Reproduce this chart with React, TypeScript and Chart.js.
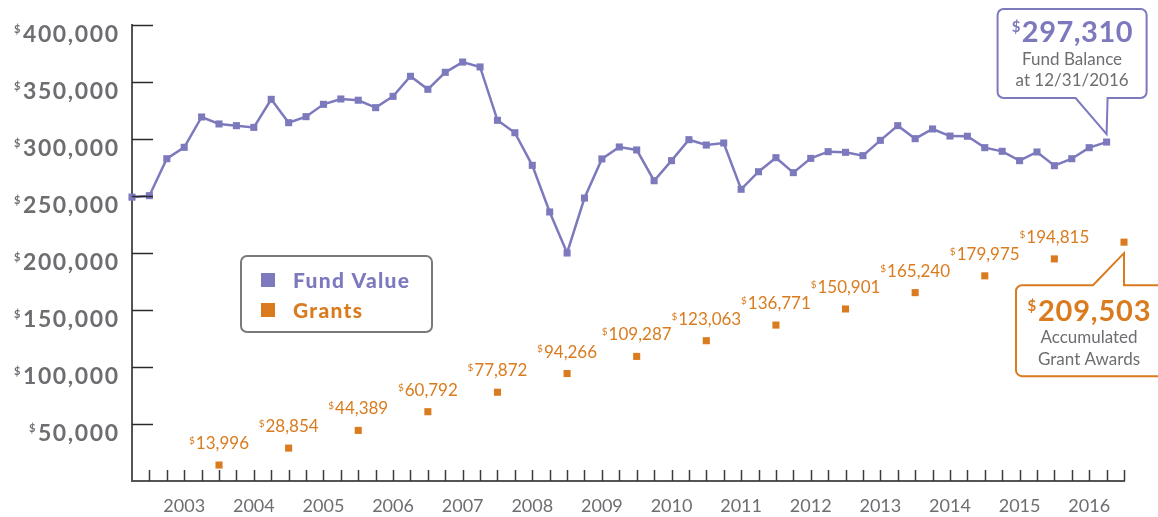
import React, { useEffect, useRef } from 'react';
import { Chart, registerables } from 'chart.js';

Chart.register(...registerables);

// ---------- data ----------
const fundValues: number[] = [
  249000, 250300, 282700, 292700, 319300, 313200, 311700, 310200,
  334800, 314300, 319600, 330400, 335100, 334000, 327500, 337400,
  355000, 343600, 358500, 367500, 363200, 316400, 305500, 276900,
  236000, 200000, 248200, 282500, 293000, 290400, 263400, 281000,
  299400, 294700, 296500, 255900, 271300, 283600, 270500, 283000,
  288900, 288300, 285400, 298800, 311700, 300300, 308800, 302600,
  302400, 292400, 289200, 281000, 288600, 276600, 282700, 292400,
  297310,
];
const yearLabels: string[] = [
  '2003', '2004', '2005', '2006', '2007', '2008', '2009',
  '2010', '2011', '2012', '2013', '2014', '2015', '2016',
];
const grantValues: number[] = [
  13996, 28854, 44389, 60792, 77872, 94266, 109287,
  123063, 136771, 150901, 165240, 179975, 194815, 209503,
];
const yTickValues: number[] = [50000, 100000, 150000, 200000, 250000, 300000, 350000, 400000];
const legendLabels: string[] = ['Fund Value', 'Grants'];
const fundCalloutLines: string[] = ['Fund Balance', 'at 12/31/2016'];
const grantCalloutLines: string[] = ['Accumulated', 'Grant Awards'];

const PURPLE = '#7d79bd';
const ORANGE = '#d97b1e';
const GRAY = '#6d6e71';
const FONT = 'Lato';

const fmt = (v: number) => v.toLocaleString('en-US');

function moneyText(
  ctx: CanvasRenderingContext2D,
  value: number,
  cx: number,
  baseline: number,
  size: number,
  dollarSize: number,
  weight: string,
  color: string,
  spacing: number,
  align: 'center' | 'right',
) {
  ctx.save();
  ctx.fillStyle = color;
  ctx.textBaseline = 'alphabetic';
  ctx.textAlign = 'left';
  (ctx as any).letterSpacing = spacing + 'px';
  ctx.font = `${weight} ${size}px ${FONT}`;
  const num = fmt(value);
  const wNum = ctx.measureText(num).width - spacing;
  ctx.font = `${weight} ${dollarSize}px ${FONT}`;
  const wD = ctx.measureText('$').width;
  const total = wD + 1 + wNum;
  const start = align === 'center' ? cx - total / 2 : cx - total;
  ctx.fillText('$', start, baseline - size * 0.72 + dollarSize * 0.72);
  ctx.font = `${weight} ${size}px ${FONT}`;
  ctx.fillText(num, start + wD + 1, baseline);
  ctx.restore();
}

const decorPlugin = {
  id: 'decor',
  afterDraw(chart: any) {
    const ctx: CanvasRenderingContext2D = chart.ctx;
    const xs = chart.scales.x;
    const ys = chart.scales.y;
    const ca = chart.chartArea;

    // y tick marks + labels
    ctx.save();
    ctx.strokeStyle = '#2a2a2a';
    ctx.lineWidth = 1.5;
    yTickValues.forEach((v) => {
      const py = Math.round(ys.getPixelForValue(v)) + 0.5;
      ctx.beginPath();
      ctx.moveTo(ca.left, py);
      ctx.lineTo(ca.left + 21, py);
      ctx.stroke();
      moneyText(ctx, v, ca.left - 14, py + 16, 23, 11, 'bold', GRAY, 1.6, 'right');
    });
    // x tick marks
    ctx.strokeStyle = '#3a3a3a';
    ctx.lineWidth = 1.5;
    for (let i = 1; i <= 57; i++) {
      const px = Math.round(xs.getPixelForValue(i)) + 0.5;
      ctx.beginPath();
      ctx.moveTo(px, ca.bottom - 11);
      ctx.lineTo(px, ca.bottom);
      ctx.stroke();
    }
    ctx.restore();

    // grant labels
    const gmeta = chart.getDatasetMeta(1);
    gmeta.data.forEach((pt: any, i: number) => {
      if (i === grantValues.length - 1) return;
      moneyText(ctx, grantValues[i], pt.x, pt.y - 16, 17, 10, 'normal', ORANGE, 0, 'center');
    });

    // legend
    ctx.save();
    const L = ca.left + 109, T = ca.top + 231, W = 191, H = 76;
    ctx.strokeStyle = '#7a7a7a';
    ctx.lineWidth = 2;
    ctx.beginPath();
    (ctx as any).roundRect(L, T, W, H, 6);
    ctx.stroke();
    const colors = [PURPLE, ORANGE];
    legendLabels.forEach((lab, i) => {
      const by = T + 31 + i * 30;
      ctx.fillStyle = colors[i];
      ctx.fillRect(L + 20, by - 14, 14, 14);
      ctx.font = `900 21px ${FONT}`;
      (ctx as any).letterSpacing = '1.3px';
      ctx.textBaseline = 'alphabetic';
      ctx.textAlign = 'left';
      ctx.fillText(lab, L + 52, by + 1);
    });
    ctx.restore();

    // fund callout
    const fmeta = chart.getDatasetMeta(0);
    const fp = fmeta.data[fmeta.data.length - 1];
    {
      const px = fp.x, py = fp.y;
      const tipX = px, tipY = py - 8;
      const Lb = px - 109, Rb = px + 40, Tb = py - 133, Bb = py - 44, r = 6;
      ctx.save();
      ctx.beginPath();
      ctx.moveTo(Lb + r, Tb);
      ctx.lineTo(Rb - r, Tb);
      ctx.arcTo(Rb, Tb, Rb, Tb + r, r);
      ctx.lineTo(Rb, Bb - r);
      ctx.arcTo(Rb, Bb, Rb - r, Bb, r);
      ctx.lineTo(tipX + 1, Bb);
      ctx.lineTo(tipX, tipY);
      ctx.lineTo(px - 31, Bb);
      ctx.lineTo(Lb + r, Bb);
      ctx.arcTo(Lb, Bb, Lb, Bb - r, r);
      ctx.lineTo(Lb, Tb + r);
      ctx.arcTo(Lb, Tb, Lb + r, Tb, r);
      ctx.closePath();
      ctx.fillStyle = '#fff';
      ctx.fill();
      ctx.strokeStyle = PURPLE;
      ctx.lineWidth = 2;
      ctx.stroke();
      const cx = (Lb + Rb) / 2;
      moneyText(ctx, fundValues[fundValues.length - 1], cx, Tb + 33, 29, 15, 'bold', PURPLE, 0.5, 'center');
      ctx.fillStyle = GRAY;
      ctx.font = `normal 17px ${FONT}`;
      ctx.textAlign = 'center';
      ctx.textBaseline = 'alphabetic';
      ctx.fillText(fundCalloutLines[0], cx, Tb + 56);
      ctx.fillText(fundCalloutLines[1], cx, Tb + 77);
      ctx.restore();
    }

    // grant callout
    const gp = gmeta.data[gmeta.data.length - 1];
    {
      const px = gp.x, py = gp.y;
      const tipX = px, tipY = py + 11;
      const Lb = px - 108, Rb = px + 48, Tb = py + 43, Bb = py + 134, r = 6;
      ctx.save();
      ctx.beginPath();
      ctx.moveTo(Lb + r, Tb);
      ctx.lineTo(px - 31, Tb);
      ctx.lineTo(tipX, tipY);
      ctx.lineTo(tipX, Tb);
      ctx.lineTo(Rb - r, Tb);
      ctx.arcTo(Rb, Tb, Rb, Tb + r, r);
      ctx.lineTo(Rb, Bb - r);
      ctx.arcTo(Rb, Bb, Rb - r, Bb, r);
      ctx.lineTo(Lb + r, Bb);
      ctx.arcTo(Lb, Bb, Lb, Bb - r, r);
      ctx.lineTo(Lb, Tb + r);
      ctx.arcTo(Lb, Tb, Lb + r, Tb, r);
      ctx.closePath();
      ctx.fillStyle = '#fff';
      ctx.fill();
      ctx.strokeStyle = ORANGE;
      ctx.lineWidth = 2;
      ctx.stroke();
      const cx = px - 35;
      moneyText(ctx, grantValues[grantValues.length - 1], cx, Tb + 36, 29, 15, 'bold', ORANGE, 0.8, 'center');
      ctx.fillStyle = GRAY;
      ctx.font = `normal 17px ${FONT}`;
      ctx.textAlign = 'center';
      ctx.textBaseline = 'alphabetic';
      ctx.fillText(grantCalloutLines[0], cx, Tb + 58);
      ctx.fillText(grantCalloutLines[1], cx, Tb + 80);
      ctx.restore();
    }
  },
};

export default function App() {
  const ref = useRef<HTMLCanvasElement | null>(null);
  useEffect(() => {
    document.body.style.margin = '0';
    const canvas = ref.current!;
    const chart = new Chart(canvas, {
      type: 'line',
      data: {
        datasets: [
          {
            label: legendLabels[0],
            data: fundValues.map((v, i) => ({ x: i, y: v })),
            borderColor: PURPLE,
            backgroundColor: PURPLE,
            borderWidth: 2.5,
            pointStyle: 'rect',
            pointRadius: 5,
            pointBackgroundColor: PURPLE,
            pointBorderWidth: 0,
            tension: 0,
            clip: false as any,
          },
          {
            label: legendLabels[1],
            data: grantValues.map((v, i) => ({ x: 5 + 4 * i, y: v })),
            showLine: false,
            borderColor: ORANGE,
            backgroundColor: ORANGE,
            pointStyle: 'rect',
            pointRadius: 5,
            pointBackgroundColor: ORANGE,
            pointBorderWidth: 0,
            clip: false as any,
          },
        ],
      },
      options: {
        responsive: false,
        animation: false,
        devicePixelRatio: 1,
        layout: { padding: { top: 25, right: 34, left: 132, bottom: 0 } },
        plugins: { legend: { display: false }, tooltip: { enabled: false } },
        scales: {
          x: {
            type: 'linear',
            min: 0,
            max: 57,
            grid: { display: false, drawTicks: false },
            border: { display: true, color: '#555', width: 2 },
            ticks: {
              stepSize: 1,
              autoSkip: false,
              maxRotation: 0,
              padding: 14,
              color: GRAY,
              font: { family: FONT, size: 18 },
              callback: (v: any) => {
                const n = Math.round(Number(v));
                return (n - 3) % 4 === 0 && n >= 3 ? yearLabels[(n - 3) / 4] : '';
              },
            },
            afterFit: (s: any) => {
              s.height = 36;
            },
          },
          y: {
            min: 0,
            max: 400000,
            grid: { display: false, drawTicks: false },
            border: { display: true, color: '#555', width: 2 },
            ticks: { display: false, stepSize: 50000 },
            afterFit: (s: any) => {
              s.width = 0;
            },
          },
        },
      },
      plugins: [decorPlugin],
    });
    return () => chart.destroy();
  }, []);
  return (
    <div style={{ width: 1158, height: 517, position: 'relative', background: '#fff' }}>
      <canvas ref={ref} width={1158} height={517} />
    </div>
  );
}
